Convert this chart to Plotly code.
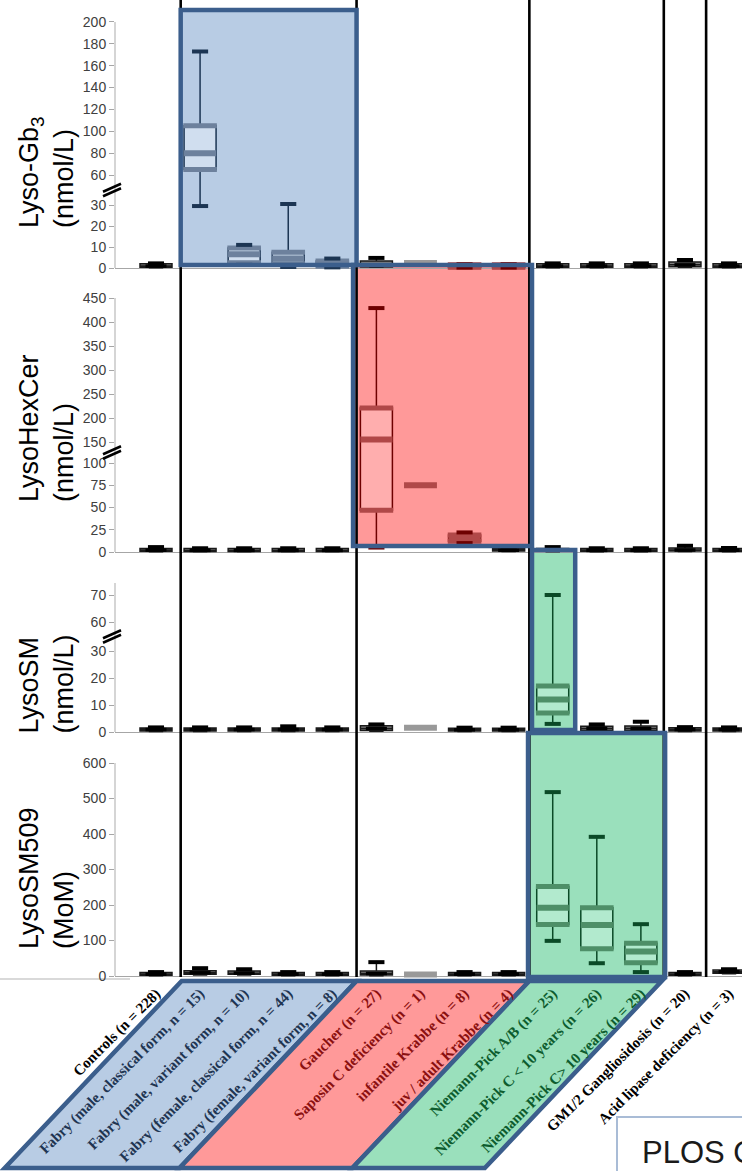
import plotly.graph_objects as go

FIG_W, FIG_H = 742, 1171

# ---------------- data ----------------
categories = [
    "Controls (n = 228)",
    "Fabry (male, classical form, n = 15)",
    "Fabry (male, variant form, n = 10)",
    "Fabry (female, classical form, n = 44)",
    "Fabry (female, variant form, n = 8)",
    "Gaucher (n = 27)",
    "Saposin C deficiency (n = 1)",
    "infantile Krabbe (n = 8)",
    "juv / adult Krabbe (n = 4)",
    "Niemann-Pick A/B (n = 25)",
    "Niemann-Pick C &lt; 10 years (n = 26)",
    "Niemann-Pick C&gt; 10 years (n = 29)",
    "GM1/2 Gangliosidosis (n = 20)",
    "Acid lipase deficiency (n = 3)",
]
label_colors = ["#000000"] + ["#1f3552"] * 4 + ["#8b1010"] * 4 + ["#0d5c2e"] * 3 + ["#000000"] * 2

# Lyso-Gb3 (nmol/L)
gb3_lower  = [0.1, 29.5, 1.5, 0.5, 0.3, 0.3, None, 0.2, 0.2, 0.1, 0.1, 0.1, 0.3, 0.1]
gb3_q1     = [0.3, 65,   2.5, 2.0, 0.8, 0.5, None, 0.3, 0.3, 0.3, 0.3, 0.3, 0.6, 0.3]
gb3_median = [0.9, 80,   6.5, 4.5, 1.5, 1.5, 2.4,  0.8, 0.8, 0.9, 0.9, 0.9, 1.5, 0.9]
gb3_q3     = [2.0, 105,  9.5, 7.5, 3.3, 3.3, None, 1.5, 1.5, 2.0, 2.0, 2.0, 2.8, 2.0]
gb3_upper  = [2.2, 173,  11,  31,  4.5, 4.8, None, 1.8, 1.8, 2.2, 2.2, 2.2, 3.8, 2.2]

# LysoHexCer (nmol/L)
hex_lower  = [0.3, 0.2, 0.2, 0.2, 0.2, 5,   None, 10, 0.5, 0.3, 0.3, 0.3, 0.5, 0.3]
hex_q1     = [0.8, 0.5, 0.5, 0.5, 0.5, 47,  None, 12, 1.0, 0.8, 0.8, 0.8, 1.0, 0.8]
hex_median = [2.0, 1.8, 1.8, 1.8, 1.8, 155, 75,   16, 2.0, 2.0, 1.8, 1.8, 2.2, 2.0]
hex_q3     = [4.0, 4.0, 4.0, 4.0, 4.0, 221, None, 19, 4.0, 4.0, 4.0, 4.0, 4.5, 4.0]
hex_upper  = [5.5, 4.2, 4.2, 4.2, 4.2, 429, None, 22, 4.5, 5.5, 4.2, 4.2, 7.0, 4.5]

# LysoSM (nmol/L)
sm_lower  = [0.2, 0.2, 0.2, 0.2, 0.2, 0.3, None, 0.2, 0.2, 3,  0.3, 0.3, 0.2, 0.2]
sm_q1     = [0.4, 0.4, 0.4, 0.4, 0.4, 0.6, None, 0.4, 0.4, 7,  0.6, 0.6, 0.4, 0.4]
sm_median = [0.9, 0.9, 0.9, 0.9, 0.9, 1.3, 1.6,  0.8, 0.8, 12, 1.3, 1.3, 0.9, 0.9]
sm_q3     = [1.5, 1.5, 1.5, 1.5, 1.5, 2.3, None, 1.4, 1.4, 17, 2.1, 2.2, 1.6, 1.5]
sm_upper  = [1.7, 1.7, 1.7, 2.1, 1.7, 2.8, None, 1.6, 1.6, 70, 2.8, 3.8, 1.8, 1.7]

# LysoSM509 (MoM)
sm509_lower  = [1,  3,  3,  1,  1,  1,  None, 1,  1,  99,  36,  11,  1,  6]
sm509_q1     = [2,  5,  5,  2,  2,  3,  None, 2,  2,  145, 77,  37,  2,  8]
sm509_median = [5,  9,  8,  5,  5,  7,  4.2,  5,  5,  192, 144, 69,  5,  12]
sm509_q3     = [10, 15, 14, 10, 10, 14, None, 10, 10, 252, 192, 92,  10, 17]
sm509_upper  = [11, 22, 19, 11, 11, 39, None, 11, 11, 518, 392, 146, 11, 19]

gb3_ticks   = [0, 10, 20, 30, 60, 80, 100, 120, 140, 160, 180, 200]
hex_ticks   = [0, 25, 50, 75, 100, 150, 200, 250, 300, 350, 400, 450]
sm_ticks    = [0, 10, 20, 30, 60, 70]
sm509_ticks = [0, 100, 200, 300, 400, 500, 600]

# ---------------- styling ----------------
STY = {
    "gray":  dict(line="#1a1a1a", fill="#808080", band=None, med="#000000", cap="#000000"),
    "blue":  dict(line="#1c3553", fill="rgba(228,236,247,0.55)", band="#6d819d", med="#6d819d", cap="#1c3553"),
    "red":   dict(line="#6e0000", fill="rgba(255,200,200,0.45)", band="#b04848", med="#b04848", cap="#6e0000"),
    "green": dict(line="#0b4a27", fill="rgba(195,240,218,0.6)", band="#4e8f68", med="#4e8f68", cap="#0b4a27"),
}
SINGLE = {"gray": "#999999", "red": "#b04848"}

G, B, R, N = "gray", "blue", "red", "green"
panels = [
    dict(data=(gb3_lower, gb3_q1, gb3_median, gb3_q3, gb3_upper), ticks=gb3_ticks,
         styles=[G, B, B, B, B, G, G, R, R, G, G, G, G, G],
         zero_px=268, top_px=8, brk=(30, 60, 2.1, 30, 1.093), axis_top=200,
         title="Lyso-Gb<sub>3</sub><br>(nmol/L)", title_bottom=230),
    dict(data=(hex_lower, hex_q1, hex_median, hex_q3, hex_upper), ticks=hex_ticks,
         styles=[G, G, G, G, G, R, R, R, G, G, G, G, G, G],
         zero_px=552, top_px=290, brk=(100, 150, 0.89, 21, 0.48), axis_top=450,
         title="LysoHexCer<br>(nmol/L)", title_bottom=504),
    dict(data=(sm_lower, sm_q1, sm_median, sm_q3, sm_upper), ticks=sm_ticks,
         styles=[G, G, G, G, G, G, G, G, G, N, G, G, G, G],
         zero_px=732, top_px=575, brk=(30, 60, 2.7, 29, 2.7), axis_top=74.4,
         title="LysoSM<br>(nmol/L)", title_bottom=736),
    dict(data=(sm509_lower, sm509_q1, sm509_median, sm509_q3, sm509_upper), ticks=sm509_ticks,
         styles=[G, G, G, G, G, G, G, G, G, N, N, N, G, G],
         zero_px=976, top_px=755, brk=(None, None, 0.355, 0, 0.355), axis_top=600,
         title="LysoSM509<br>(MoM)", title_bottom=951),
]

X0_PX, DX_PX, AXIS_PX = 156.0, 44.08, 115.0
X_RANGE = [(AXIS_PX - X0_PX) / DX_PX, (FIG_W - X0_PX) / DX_PX]
XD0 = AXIS_PX / FIG_W
BOX_W = 32 / DX_PX
sep_cats = [0.56, 4.55, 8.47, 11.52, 12.48]


def T(p, v):
    lo_end, hi_start, s_lo, gap, s_hi = p["brk"]
    if lo_end is None or v <= lo_end:
        return v * s_lo
    if v >= hi_start:
        return lo_end * s_lo + gap + (v - hi_start) * s_hi
    return lo_end * s_lo + (v - lo_end) / (hi_start - lo_end) * gap


def pxx(px):
    return px / FIG_W


def pxy(px):
    return 1 - px / FIG_H


def cat_px(c):
    return X0_PX + DX_PX * c


fig = go.Figure()
shapes = []
annotations = []

for k, p in enumerate(panels, start=1):
    xa = "x" if k == 1 else f"x{k}"
    ya = "y" if k == 1 else f"y{k}"
    lower, q1, med, q3, upper = p["data"]
    for i in range(len(categories)):
        sname = p["styles"][i]
        st = STY[sname]
        if q1[i] is None:
            fig.add_trace(go.Scatter(
                x=[i], y=[T(p, med[i])], mode="markers", xaxis=xa, yaxis=ya,
                marker=dict(symbol="line-ew", size=23.5,
                            line=dict(width=6, color=SINGLE["red" if sname == R else "gray"])),
                showlegend=False, hoverinfo="skip"))
            continue
        fig.add_trace(go.Box(
            x=[i], q1=[T(p, q1[i])], median=[T(p, med[i])], q3=[T(p, q3[i])],
            lowerfence=[T(p, lower[i])], upperfence=[T(p, upper[i])],
            width=BOX_W, whiskerwidth=0.45, boxpoints=False,
            line=dict(color=st["line"], width=1.5), fillcolor=st["fill"],
            xaxis=xa, yaxis=ya, showlegend=False, hoverinfo="skip"))
        if st["band"]:
            fig.add_trace(go.Scatter(
                x=[i, i], y=[T(p, q1[i]), T(p, q3[i])], mode="markers", xaxis=xa, yaxis=ya,
                marker=dict(symbol="line-ew", size=24, line=dict(width=5, color=st["band"])),
                showlegend=False, hoverinfo="skip"))
            fig.add_trace(go.Scatter(
                x=[i], y=[T(p, med[i])], mode="markers", xaxis=xa, yaxis=ya,
                marker=dict(symbol="line-ew", size=23, line=dict(width=6, color=st["med"])),
                showlegend=False, hoverinfo="skip"))
            cap_y = [T(p, lower[i]), T(p, upper[i])]
            cap_x = [i, i]
        else:
            fig.add_trace(go.Scatter(
                x=[i], y=[T(p, med[i])], mode="markers", xaxis=xa, yaxis=ya,
                marker=dict(symbol="line-ew", size=15, line=dict(width=3.5, color=st["med"])),
                showlegend=False, hoverinfo="skip"))
            cap_y = [T(p, upper[i])]
            cap_x = [i]
        fig.add_trace(go.Scatter(
            x=cap_x, y=cap_y, mode="markers", xaxis=xa, yaxis=ya,
            marker=dict(symbol="line-ew", size=11.5, line=dict(width=4, color=st["cap"])),
            showlegend=False, hoverinfo="skip"))

    # axes
    zero = p["zero_px"]
    yd = [pxy(zero + 5), pxy(p["top_px"])]
    fig.update_layout(**{
        ("yaxis" if k == 1 else f"yaxis{k}"): dict(
            domain=yd, range=[-5, zero - p["top_px"]], anchor=xa, automargin=False,
            tickvals=[T(p, v) for v in p["ticks"]], ticktext=[str(v) for v in p["ticks"]],
            ticks="outside", ticklen=5, tickcolor="#a6a6a6", tickwidth=1,
            tickfont=dict(family="Liberation Sans", size=14, color="#404040"),
            showgrid=False, zeroline=True, zerolinecolor="#a6a6a6", zerolinewidth=1,
            showline=False, fixedrange=True),
        ("xaxis" if k == 1 else f"xaxis{k}"): dict(
            domain=[XD0, 1], range=X_RANGE, anchor=ya, automargin=False,
            showgrid=False, zeroline=False,
            showline=False, ticks="", showticklabels=(k == 4),
            tickvals=list(range(len(categories))),
            ticktext=[f'<b><span style="color:{c}">{t}</span></b>' for t, c in zip(categories, label_colors)],
            tickangle=-45, tickfont=dict(family="Liberation Serif", size=15),
            fixedrange=True),
    })
    # axis line
    shapes.append(dict(type="line", xref="paper", yref="paper", layer="above",
                       x0=XD0, x1=XD0, y0=pxy(zero), y1=pxy(zero - T(p, p["axis_top"])),
                       line=dict(color="#bfbfbf", width=1.3)))
    # break marks
    if p["brk"][0] is not None:
        lo_end, hi_start, s_lo, gap, s_hi = p["brk"]
        mid = zero - (lo_end * s_lo + gap / 2)
        for off in (-2.2, 2.2):
            shapes.append(dict(type="line", xref="paper", yref="paper", layer="above",
                               x0=pxx(103), x1=pxx(121), y0=pxy(mid + 4 + off), y1=pxy(mid - 4 + off),
                               line=dict(color="#000000", width=2.6)))
    # title
    annotations.append(dict(xref="paper", yref="paper", x=pxx(46), y=pxy(p["title_bottom"]),
                            xanchor="center", yanchor="bottom", textangle=-90, align="left",
                            showarrow=False, text=p["title"],
                            font=dict(family="Liberation Sans", size=27, color="#000000")))

# highlight rectangles (x in category units -> px)
highlight = [
    ("#b8cce4", sep_cats[0], sep_cats[1], 10, 265),
    ("#ff9999", 4.47, 8.53, 265, 546),
    ("#9ae0bc", 8.53, 9.51, 550, 730),
    ("#9ae0bc", 8.44, 11.55, 733, 977),
]
for col, c0, c1, ytop, ybot in highlight:
    shapes.append(dict(type="rect", xref="paper", yref="paper", layer="below",
                       x0=pxx(cat_px(c0)), x1=pxx(cat_px(c1)), y0=pxy(ybot), y1=pxy(ytop),
                       fillcolor=col, line=dict(width=0)))

# separators
for c in sep_cats:
    shapes.append(dict(type="line", xref="paper", yref="paper", layer="above",
                       x0=pxx(cat_px(c)), x1=pxx(cat_px(c)), y0=pxy(977), y1=pxy(0),
                       line=dict(color="#000000", width=2.6)))

for col, c0, c1, ytop, ybot in highlight:
    shapes.append(dict(type="rect", xref="paper", yref="paper", layer="above",
                       x0=pxx(cat_px(c0)), x1=pxx(cat_px(c1)), y0=pxy(ybot), y1=pxy(ytop),
                       fillcolor="rgba(0,0,0,0)", line=dict(color="#3b5e8c", width=4.5)))

# parallelogram label bands
TOP_Y, BOT_Y, SHIFT = 981, 1168, 177
bands = [
    ("#b8cce4", cat_px(sep_cats[0]) + 1, cat_px(sep_cats[1])),
    ("#ff9999", cat_px(sep_cats[1]), cat_px(sep_cats[2])),
    ("#9ae0bc", cat_px(sep_cats[2]), cat_px(sep_cats[3]) - 2),
]
for col, xl, xr in bands:
    path = (f"M {pxx(xl)},{pxy(TOP_Y)} L {pxx(xr)},{pxy(TOP_Y)} "
            f"L {pxx(xr - SHIFT)},{pxy(BOT_Y)} L {pxx(xl - SHIFT)},{pxy(BOT_Y)} Z")
    shapes.append(dict(type="path", xref="paper", yref="paper", layer="below", path=path,
                       fillcolor=col, line=dict(color="#3b5e8c", width=4.5)))

# faint line at left bottom
shapes.append(dict(type="line", xref="paper", yref="paper", layer="below",
                   x0=0, x1=pxx(130), y0=pxy(979), y1=pxy(979),
                   line=dict(color="#cccccc", width=1.5)))

# PLOS badge
shapes.append(dict(type="rect", xref="paper", yref="paper", layer="above",
                   x0=pxx(617), x1=pxx(800), y0=pxy(1200), y1=pxy(1117),
                   fillcolor="#ffffff", line=dict(color="#a9bcd6", width=2)))
annotations.append(dict(xref="paper", yref="paper", x=pxx(640), y=pxy(1152), xanchor="left",
                        yanchor="middle", showarrow=False, text="PLOS ONE",
                        font=dict(family="Liberation Sans", size=31, color="#1a1a1a")))

fig.update_layout(
    width=FIG_W, height=FIG_H, margin=dict(l=0, r=0, t=0, b=0, autoexpand=False),
    paper_bgcolor="#ffffff", plot_bgcolor="rgba(0,0,0,0)",
    showlegend=False, boxmode="overlay",
    shapes=shapes, annotations=annotations,
)

fig.write_html("out.html", config={"displayModeBar": False, "staticPlot": True},
               post_script="document.body.style.margin='0';document.body.style.overflow='hidden';")
